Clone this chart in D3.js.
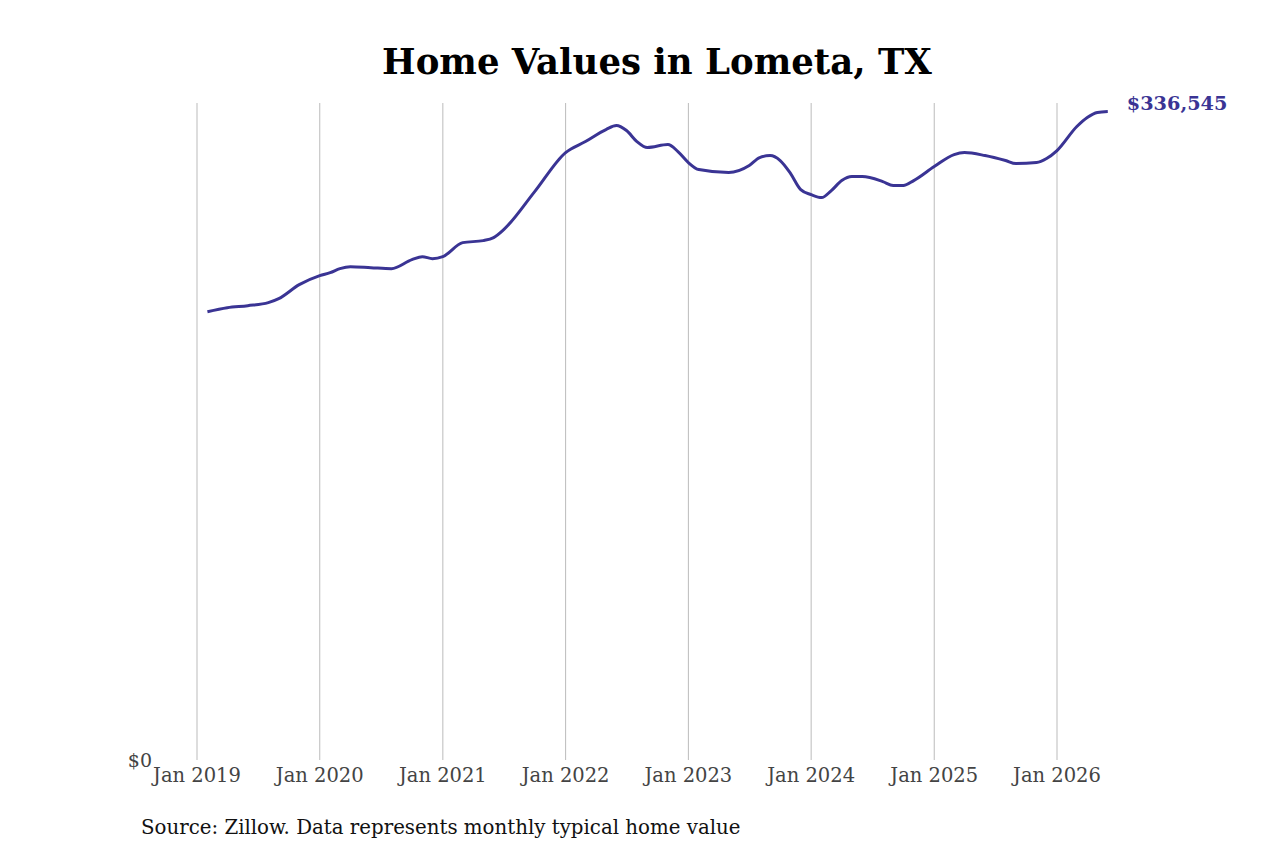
<!DOCTYPE html>
<html><head><meta charset="utf-8">
<script src="https://cdn.jsdelivr.net/npm/d3@7"></script>
<style>body{margin:0;background:#fff}text{font-family:"DejaVu Serif",serif}</style>
</head><body><svg id="c" width="1280" height="853"></svg>
<script>
var months = ["2019-02","2019-04","2019-06","2019-08","2019-09","2019-11","2020-01","2020-02","2020-03","2020-04","2020-06","2020-08","2020-10","2020-11","2020-12","2021-01","2021-03","2021-05","2021-06","2021-07","2021-10","2022-01","2022-03","2022-05","2022-06","2022-07","2022-08","2022-09","2022-11","2022-12","2023-01","2023-02","2023-05","2023-07","2023-08","2023-09","2023-10","2023-11","2023-12","2024-01","2024-02","2024-03","2024-04","2024-05","2024-06","2024-08","2024-09","2024-10","2024-11","2025-01","2025-03","2025-04","2025-06","2025-08","2025-09","2025-11","2025-12","2026-01","2026-03","2026-04","2026-05","2026-06"];
var values = [232691,234769,235808,237366,239443,246715,251390,252948,255025,256064,255545,255025,259700,261258,260219,261258,268530,269569,271127,275282,295019,315276,320989,327222,329300,326703,320989,317873,319431,315795,310082,306446,304888,308524,312679,313718,311121,304368,296058,293461,291903,295539,300733,302810,302810,300213,298136,298136,300733,308004,314237,315276,313718,311121,309562,310082,312159,316315,328780,333455,336052,336545];
var tickYears = [2019,2020,2021,2022,2023,2024,2025,2026];

var parse = d3.timeParse("%Y-%m");
var data = months.map(function(m,i){ return {date: parse(m), value: values[i]}; });
var svg = d3.select("#c");

var x = d3.scaleTime().domain([new Date(2019,0,1), new Date(2026,0,1)]).range([197,1057]);
var y = d3.scaleLinear().domain([0, 341000]).range([760,103]);

svg.append("text").attr("x",657).attr("y",74).attr("text-anchor","middle")
  .style("font-size","35.5px").style("font-weight","bold").text("Home Values in Lometa, TX");

svg.selectAll(".grid").data(tickYears).enter().append("line")
  .attr("x1",d=>x(new Date(d,0,1))).attr("x2",d=>x(new Date(d,0,1)))
  .attr("y1",103).attr("y2",760).attr("stroke","#bbb").attr("stroke-width",1);

svg.selectAll(".tl").data(tickYears).enter().append("text")
  .attr("x",d=>x(new Date(d,0,1))).attr("y",782).attr("text-anchor","middle")
  .style("font-size","19.5px").attr("fill","#444").text(d=>"Jan "+d);

svg.append("text").attr("x",152).attr("y",767).attr("text-anchor","end")
  .style("font-size","19px").attr("fill","#444").text("$0");

var line = d3.line().x(d=>x(d.date)).y(d=>y(d.value)).curve(d3.curveMonotoneX);
svg.append("path").datum(data).attr("d",line).attr("fill","none")
  .attr("stroke","#3a3494").attr("stroke-width",3);

var last = data[data.length-1];
svg.append("text").attr("x",x(last.date)+19).attr("y",y(last.value)-2)
  .style("font-size","19.3px").style("font-weight","bold").attr("fill","#3a3494")
  .text(d3.format("$,")(last.value));

svg.append("text").attr("x",141).attr("y",834).style("font-size","19.8px").attr("fill","#111")
  .text("Source: Zillow. Data represents monthly typical home value");
</script></body></html>
